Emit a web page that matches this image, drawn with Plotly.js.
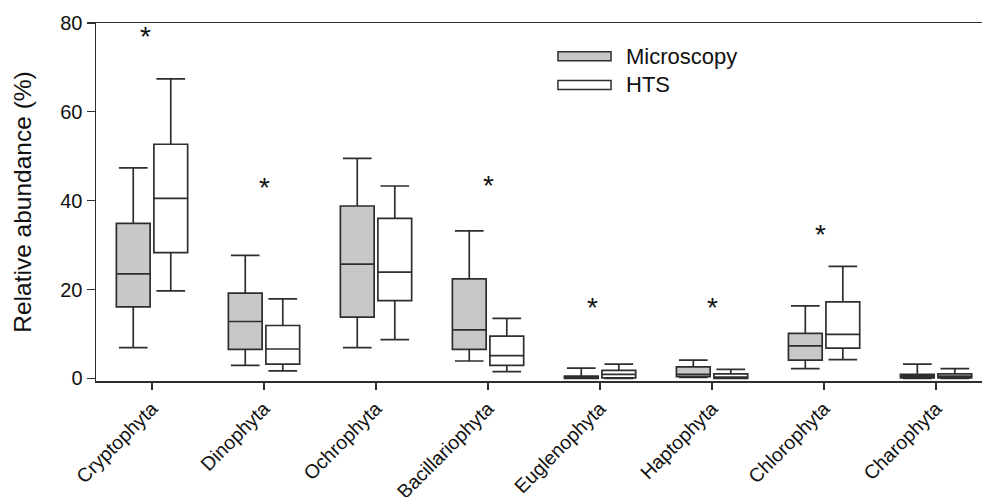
<!DOCTYPE html>
<html>
<head>
<meta charset="utf-8">
<script src="https://cdn.plot.ly/plotly-3.0.1.min.js"></script>
<style>html,body{margin:0;padding:0;background:#fff;}#chart{width:982px;height:497px;}</style>
</head>
<body>
<div id="chart"></div>
<script>
const categories = ["Cryptophyta","Dinophyta","Ochrophyta","Bacillariophyta","Euglenophyta","Haptophyta","Chlorophyta","Charophyta"];

const microLower  = [6.9, 2.9, 6.9, 3.9, 0.0, 0.2, 2.2, 0.0];
const microQ1     = [16.1, 6.5, 13.8, 6.5, 0.0, 0.4, 4.1, 0.1];
const microMedian = [23.5, 12.8, 25.7, 10.9, 0.2, 0.9, 7.3, 0.5];
const microQ3     = [34.9, 19.2, 38.8, 22.4, 0.5, 2.6, 10.1, 0.9];
const microUpper  = [47.4, 27.7, 49.5, 33.2, 2.3, 4.1, 16.3, 3.2];

const htsLower  = [19.7, 1.7, 8.7, 1.5, 0.0, 0.0, 4.2, 0.0];
const htsQ1     = [28.3, 3.2, 17.5, 2.9, 0.1, 0.0, 6.8, 0.1];
const htsMedian = [40.5, 6.6, 23.9, 5.1, 0.9, 0.3, 9.9, 0.5];
const htsQ3     = [52.7, 11.9, 36.0, 9.5, 1.8, 1.0, 17.2, 1.0];
const htsUpper  = [67.4, 17.9, 43.3, 13.5, 3.2, 2.0, 25.2, 2.2];

const seriesNames = ["Microscopy", "HTS"];
const seriesFills = ["#c8c8c8", "#ffffff"];

// significance markers: category, y value
const sigCategories = ["Cryptophyta","Dinophyta","Bacillariophyta","Euglenophyta","Haptophyta","Chlorophyta"];
const sigY = [77.0, 43.0, 43.5, 16.0, 16.0, 32.3];
const sigShift = [-7, 0, 0, -8, 0, -4];

const lineCol = "#2e2e2e";
const font = "Liberation Sans, Arial, sans-serif";

const traces = [
  {
    type: "box", name: seriesNames[0], x: categories,
    q1: microQ1, median: microMedian, q3: microQ3,
    lowerfence: microLower, upperfence: microUpper,
    fillcolor: seriesFills[0], line: {color: lineCol, width: 1.7},
    whiskerwidth: 0.85, boxpoints: false, hoverinfo: "skip", showlegend: false
  },
  {
    type: "box", name: seriesNames[1], x: categories,
    q1: htsQ1, median: htsMedian, q3: htsQ3,
    lowerfence: htsLower, upperfence: htsUpper,
    fillcolor: seriesFills[1], line: {color: lineCol, width: 1.7},
    whiskerwidth: 0.85, boxpoints: false, hoverinfo: "skip", showlegend: false
  }
];

const annotations = sigCategories.map((c, i) => ({
  x: c, y: sigY[i], xref: "x", yref: "y", text: "*", showarrow: false,
  xshift: sigShift[i],
  font: {family: font, size: 28, color: "#111"}
}));

// manual legend (wide flat swatches as in the original)
const legY = [0.907, 0.827];
const shapes = [];
seriesNames.forEach((n, i) => {
  shapes.push({
    type: "rect", xref: "paper", yref: "paper",
    x0: 0.5214, x1: 0.5813, y0: legY[i] - 0.0125, y1: legY[i] + 0.0125,
    fillcolor: seriesFills[i], line: {color: lineCol, width: 1.5}
  });
  annotations.push({
    xref: "paper", yref: "paper", x: 0.596, y: legY[i], xanchor: "left", yanchor: "middle",
    text: n, showarrow: false, font: {family: font, size: 22, color: "#111"}
  });
});

const layout = {
  width: 982, height: 497,
  margin: {l: 96, r: 0, t: 23, b: 116, pad: 0},
  paper_bgcolor: "#fff", plot_bgcolor: "#fff",
  boxmode: "group", boxgap: 0.33, boxgroupgap: 0.1,
  showlegend: false,
  font: {family: font, color: "#111"},
  xaxis: {
    type: "category", range: [-0.5, 7.41],
    tickmode: "array", tickvals: categories, ticktext: categories,
    tickangle: -45, ticks: "outside", ticklen: 7, tickwidth: 1.3, tickcolor: lineCol,
    tickfont: {family: font, size: 19.5, color: "#111"},
    showline: true, linecolor: lineCol, linewidth: 1.5, mirror: true,
    showgrid: false, zeroline: false, fixedrange: true, automargin: false
  },
  yaxis: {
    range: [-0.6, 80], tickvals: [0, 20, 40, 60, 80],
    ticks: "outside", ticklen: 8, tickwidth: 1.3, tickcolor: lineCol,
    tickfont: {family: font, size: 20, color: "#111"},
    title: {text: "Relative abundance (%)", font: {family: font, size: 24.5, color: "#111"}, standoff: 21},
    showline: true, linecolor: lineCol, linewidth: 1.5,
    showgrid: false, zeroline: false, fixedrange: true, automargin: false
  },
  shapes: shapes,
  annotations: annotations
};

Plotly.newPlot("chart", traces, layout, {displayModeBar: false, staticPlot: true});
</script>
</body>
</html>
